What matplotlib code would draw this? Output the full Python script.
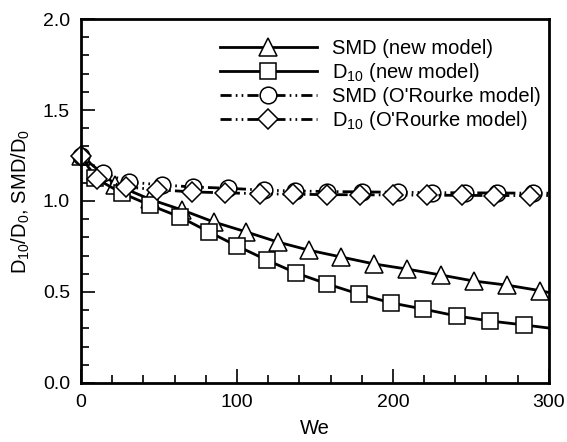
import matplotlib
matplotlib.use("Agg")
import matplotlib.pyplot as plt

plt.rcParams["font.family"] = ["Liberation Sans", "DejaVu Sans"]
plt.rcParams["mathtext.fontset"] = "custom"
plt.rcParams["mathtext.rm"] = "Liberation Sans"
plt.rcParams["mathtext.it"] = "Liberation Sans"

# SMD, new model (triangles)
we_smd_new = [0, 22, 44, 65, 85, 106, 126, 146, 167, 188, 209, 231, 252, 273, 294, 300]
smd_new = [1.25, 1.09, 1.01, 0.95, 0.885, 0.83, 0.775, 0.73, 0.692, 0.654,
           0.626, 0.593, 0.560, 0.538, 0.508, 0.497]

# D10, new model (squares)
we_d10_new = [0, 9, 26, 44, 63.5, 82, 100, 119, 138, 158, 178, 199, 219, 241, 262, 284, 300]
d10_new = [1.25, 1.126, 1.044, 0.978, 0.912, 0.83, 0.753, 0.676, 0.604, 0.544,
           0.489, 0.44, 0.407, 0.368, 0.341, 0.319, 0.302]

# SMD, O'Rourke model (circles)
we_smd_or = [0, 14, 31, 52, 72, 94, 117, 137, 158, 180, 203, 225, 246, 267, 290, 300]
smd_or = [1.25, 1.154, 1.104, 1.088, 1.077, 1.07, 1.06, 1.055, 1.052, 1.05,
          1.048, 1.046, 1.045, 1.044, 1.043, 1.043]

# D10, O'Rourke model (diamonds)
we_d10_or = [0, 10, 29, 49, 71, 92, 115, 136, 158, 179, 200, 222, 244, 265, 288, 300]
d10_or = [1.25, 1.12, 1.077, 1.062, 1.05, 1.045, 1.04, 1.037, 1.035, 1.034,
          1.033, 1.032, 1.031, 1.03, 1.03, 1.03]

fig = plt.figure(figsize=(5.67, 4.42), dpi=100)
ax = fig.add_axes([0.143, 0.1335, 0.825, 0.8235])

dashdotdot = (0, (4, 1.5, 0.6, 1.5, 0.6, 1.5))
common = dict(color="black", lw=2.0, mfc="white", mec="black", mew=1.1,
              clip_on=False)

ax.plot(we_smd_new, smd_new, ls="-", marker="^", ms=13,
        markevery=list(range(len(we_smd_new) - 1)),
        label="SMD (new model)", **common)
# no square drawn at We = 0 in the original (hidden under the others)
ax.plot(we_d10_new, d10_new, ls="-", marker="s", ms=11,
        markevery=list(range(1, len(we_d10_new) - 1)),
        label=r"D$_{10}$ (new model)", **common)
ax.plot(we_smd_or, smd_or, ls=dashdotdot, marker="o", ms=12,
        markevery=list(range(len(we_smd_or) - 1)),
        label="SMD (O'Rourke model)", **common)
ax.plot(we_d10_or, d10_or, ls=dashdotdot, marker="D", ms=10.5,
        markevery=list(range(len(we_d10_or) - 1)),
        label=r"D$_{10}$ (O'Rourke model)", **common)

ax.set_xlim(0, 300)
ax.set_ylim(0, 2.0)
ax.set_xticks([0, 100, 200, 300])
ax.set_xticks(range(0, 301, 20), minor=True)
ax.set_yticks([0.0, 0.5, 1.0, 1.5, 2.0])
ax.set_yticks([i / 10 for i in range(21)], minor=True)
ax.set_yticklabels(["0.0", "0.5", "1.0", "1.5", "2.0"])
ax.tick_params(which="both", direction="in", labelsize=14, width=1.2,
               top=False, right=False)
ax.tick_params(which="major", length=10, pad=8)
ax.tick_params(which="minor", length=6)
for s in ax.spines.values():
    s.set_linewidth(2)
    s.set_zorder(3)

ax.set_xlabel("We", fontsize=14.5, labelpad=6)
ax.set_ylabel(r"D$_{10}$/D$_0$, SMD/D$_0$", fontsize=14.5, labelpad=8)

ax.legend(loc="upper left", bbox_to_anchor=(0.297, 0.945), frameon=False,
          fontsize=14.5, handlelength=4.8, handletextpad=0.75, labelspacing=0.15,
          borderpad=0, borderaxespad=0, numpoints=1)

fig.savefig("out.png", dpi=100)
